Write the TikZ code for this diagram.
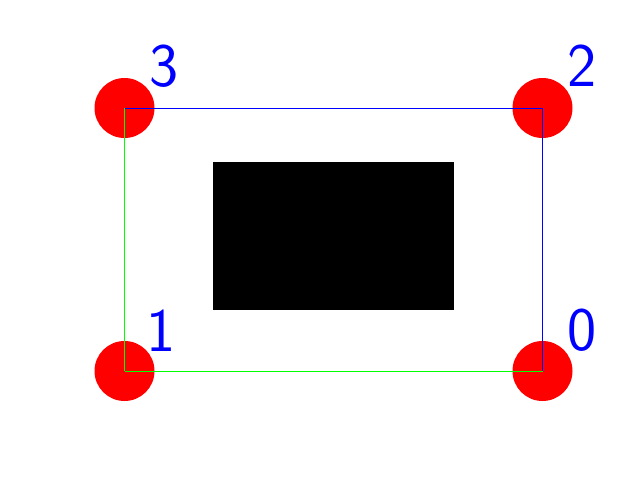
\documentclass[tikz,border=0pt]{standalone}
\usepackage{tikz}

\begin{document}
\begin{tikzpicture}[x=0.025cm, y=-0.025cm, line join=round,
    corner/.style={fill=red},
    edge/.style={line width=0.7pt},
    idx/.style={text=blue, font=\sffamily\fontsize{44}{44}\selectfont, inner sep=0pt}]

    % Canvas, pixel units measured from top left
    \useasboundingbox (0, 0) rectangle (640, 480);

    % Corner points of the frame
    \coordinate (P0) at (542.5, 371);
    \coordinate (P1) at (124.5, 371);
    \coordinate (P2) at (542.5, 108);
    \coordinate (P3) at (124.5, 108);

    % Red markers at the corners
    \fill[corner] (P0) circle (30);
    \fill[corner] (P1) circle (30);
    \fill[corner] (P2) circle (30);
    \fill[corner] (P3) circle (30);

    % Black block in the middle
    \fill[black] (213, 162) rectangle (454, 310);

    % Frame edges
    \draw[edge, blue] (P3) -- (P2);
    \draw[edge, blue] (P2) -- (P0);
    \draw[edge, green] (P3) -- (P1);
    \draw[edge, green] (P1) -- (P0);

    % Corner indices
    \node[idx] (L0) at (582.5, 330) {0};
    \node[idx] (L1) at (161.5, 330.5) {1};
    \node[idx] (L2) at (582.5, 66) {2};
    \node[idx] (L3) at (164, 66) {3};

\end{tikzpicture}
\end{document}
